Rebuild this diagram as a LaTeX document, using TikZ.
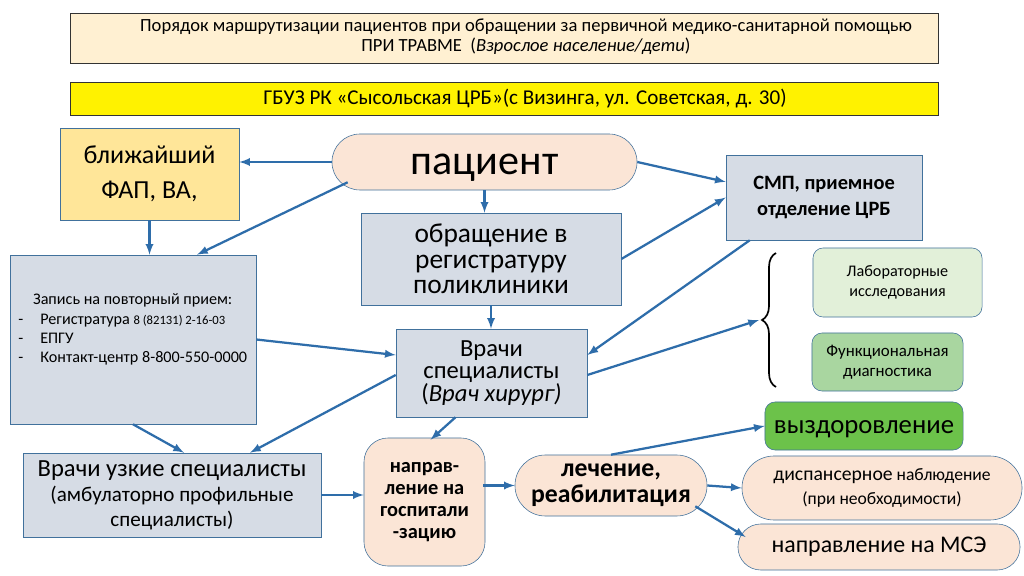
\documentclass[tikz,border=0pt]{standalone}
\usepackage{fontspec}
\setmainfont{Carlito}
\usepackage{tikz}
\usetikzlibrary{decorations.pathreplacing}
\definecolor{bordc}{HTML}{41719C}
\definecolor{arrc}{HTML}{2E6DAA}
\definecolor{bgray}{HTML}{D6DCE5}
\definecolor{peach}{HTML}{FBE5D6}
\definecolor{cream}{HTML}{FFF0D2}
\definecolor{gold}{HTML}{FFE699}
\definecolor{lgreen}{HTML}{E2F0D9}
\definecolor{mgreen}{HTML}{A9D6A0}
\definecolor{dgreen}{HTML}{6CC24A}

\begin{document}
\begin{tikzpicture}[x=0.025cm,y=-0.025cm,
  box/.style={rectangle,draw=bordc,fill=bgray,align=center,inner sep=1pt},
  pill/.style={rectangle,rounded corners=#1,draw=bordc,fill=peach,align=center,inner sep=1pt},
  arr/.style={-latex,draw=arrc,line width=1.6pt}]
\useasboundingbox[fill=white] (0,0) rectangle (1024,576);

\node[rectangle,draw=black!80,fill=cream,minimum width=21.7cm,minimum height=1.25cm] (title) at (504,38) {};
\node[align=center,inner sep=0pt,font=\fontsize{13.2}{14.5}\selectfont] (titletext) at (526,37) {Порядок маршрутизации пациентов при обращении за первичной медико-санитарной помощью\\ПРИ ТРАВМЕ~~(\textit{Взрослое население/дети})};
\node[rectangle,draw=black!80,fill=yellow,minimum width=21.7cm,minimum height=0.825cm] (gbuz) at (504,98.5) {};
\node[inner sep=0pt,font=\fontsize{15}{17}\selectfont] (gbuztext) at (525,98.5) {ГБУЗ РК «Сысольская ЦРБ»(с Визинга, ул. Советская, д. 30)};

\node[box,fill=gold,minimum width=4.475cm,minimum height=2.3cm,font=\fontsize{18.5}{25}\selectfont] (fap) at (149.5,174) {ближайший\\ФАП, ВА,};
\node[pill=0.7cm,minimum width=7.625cm,minimum height=1.4cm,font=\fontsize{30}{34}\selectfont] (pac) at (484.5,162) {\raisebox{-0.3cm}[0pt][0pt]{пациент}};
\node[box,minimum width=6.5cm,minimum height=2.3cm,font=\fontsize{19.5}{18.3}\selectfont] (obr) at (491,259) {обращение в\\регистратуру\\поликлиники};
\node[box,minimum width=4.9cm,minimum height=2.125cm,font=\bfseries\fontsize{14.5}{18.4}\selectfont] (smp) at (824,197.5) {СМП, приемное\\отделение ЦРБ};

\node[box,minimum width=6.15cm,minimum height=4.225cm] (zap) at (133,339.5) {};
\node[anchor=west,inner sep=0pt,font=\fontsize{11.5}{13.7}\selectfont] (ziptext) at (18,330) {\begin{tabular}{@{}p{0.55cm}@{}l@{}}
\multicolumn{2}{@{}l@{}}{\hspace{0.37cm}Запись на повторный прием:}\\
- & Регистратура {\fontsize{9}{10}\selectfont 8 (82131) 2-16-03}\\
- & ЕПГУ\\
- & Контакт-центр 8-800-550-0000
\end{tabular}};

\node[box,minimum width=4.775cm,minimum height=2.2cm,font=\fontsize{17.5}{16.2}\selectfont] (vrs) at (491.5,373) {Врачи\\специалисты\\(\textit{Врач хирург)}};

\node[rectangle,rounded corners=0.25cm,draw=bordc,fill=lgreen,align=center,minimum width=4.225cm,minimum height=1.725cm,font=\fontsize{11.5}{14}\selectfont] (lab) at (897.5,282.5) {Лабораторные\\исследования};
\node[rectangle,rounded corners=0.25cm,draw=bordc,fill=mgreen,align=center,minimum width=3.775cm,minimum height=1.45cm,font=\fontsize{12}{14}\selectfont] (fun) at (887.5,362) {Функциональная\\диагностика};
\draw[decorate,decoration={brace,amplitude=0.35cm},line width=1.2pt] (776,387) -- (776,253);
\coordinate (brtip) at (759,320);

\node[rectangle,rounded corners=0.25cm,draw=bordc,fill=dgreen,minimum width=4.95cm,minimum height=1.2cm,font=\fontsize{19}{22}\selectfont] (vyz) at (864,426) {\raisebox{-0.19cm}[0pt][0pt]{выздоровление}};
\node[box,minimum width=7.45cm,minimum height=2.1cm,font=\fontsize{15}{17.7}\selectfont] (uzk) at (172,495) {{\fontsize{17.5}{21}\selectfont Врачи узкие специалисты}\\(амбулаторно профильные\\специалисты)};
\node[pill=0.6cm,minimum width=3.025cm,minimum height=3.2cm,font=\bfseries\fontsize{14.5}{15.8}\selectfont] (gos) at (424.5,502) {направ-\\ление на\\госпитали\\-зацию};
\node[pill=0.76cm,minimum width=4.8cm,minimum height=1.525cm,font=\bfseries\fontsize{18.3}{18.6}\selectfont] (lech) at (611,485.5) {лечение,\\реабилитация};
\node[pill=0.8cm,minimum width=7cm,minimum height=1.6cm,font=\fontsize{12.5}{17}\selectfont] (disp) at (882,488) {{\fontsize{14}{17}\selectfont диспансерное} наблюдение\\(при необходимости)};
\node[pill=0.57cm,minimum width=7.05cm,minimum height=1.15cm,font=\fontsize{17}{20}\selectfont] (mse) at (879,547) {направление на МСЭ};

\draw[arr] (pac.west) -- (fap.east |- pac.west);
\draw[arr] ([xshift=0.4cm,yshift=0.2cm]pac.south west) -- ([xshift=1.6cm]zap.north);
\draw[arr] (pac.south) -- (pac.south |- obr.north);
\draw[arr] (pac.east) -- ([yshift=0.39cm]smp.west);
\draw[arr] (fap.south) -- (fap.south |- zap.north);
\draw[arr] (obr.east) -- (smp.west);
\draw[arr] (obr.south) -- (obr.south |- vrs.north);
\draw[arr] (zap.east) -- ([yshift=0.45cm]vrs.west);
\draw[arr] ([xshift=0.6cm]smp.south west) -- ([yshift=0.45cm]vrs.east);
\draw[arr] ([yshift=-0.05cm]vrs.east) -- (brtip);
\draw[arr] ([yshift=-0.05cm]vrs.west) -- ([xshift=1.95cm]uzk.north);
\draw[arr] (zap.south) -- ([xshift=0.3cm]uzk.north);
\draw[arr] ([xshift=-0.9cm]vrs.south) -- ([xshift=0.15cm,yshift=-0.05cm]gos.north);
\draw[arr] (uzk.east) -- (uzk.east -| gos.west);
\draw[arr] ([xshift=-0.05cm]gos.east |- lech.west) -- (lech.west);
\draw[arr] (lech.north) -- (vyz.west);
\draw[arr] (lech.east) -- (disp.west);
\draw[arr] ([xshift=-0.3cm,yshift=0.25cm]lech.south east) -- ([xshift=0.2cm,yshift=0.25cm]mse.west);
\end{tikzpicture}
\end{document}
